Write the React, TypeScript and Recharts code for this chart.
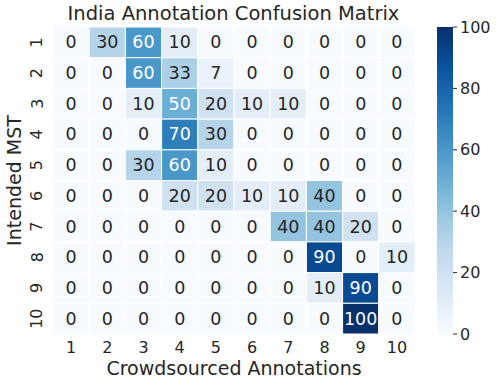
import React from 'react';
import { ScatterChart, Scatter, XAxis, YAxis, BarChart, Bar } from 'recharts';

// axis categories
const crowdLabels = ['1', '2', '3', '4', '5', '6', '7', '8', '9', '10'];
const mstLabels = ['1', '2', '3', '4', '5', '6', '7', '8', '9', '10'];

// rows = intended MST, columns = crowdsourced annotation (percent)
const row1 = [0, 30, 60, 10, 0, 0, 0, 0, 0, 0];
const row2 = [0, 0, 60, 33, 7, 0, 0, 0, 0, 0];
const row3 = [0, 0, 10, 50, 20, 10, 10, 0, 0, 0];
const row4 = [0, 0, 0, 70, 30, 0, 0, 0, 0, 0];
const row5 = [0, 0, 30, 60, 10, 0, 0, 0, 0, 0];
const row6 = [0, 0, 0, 20, 20, 10, 10, 40, 0, 0];
const row7 = [0, 0, 0, 0, 0, 0, 40, 40, 20, 0];
const row8 = [0, 0, 0, 0, 0, 0, 0, 90, 0, 10];
const row9 = [0, 0, 0, 0, 0, 0, 0, 10, 90, 0];
const row10 = [0, 0, 0, 0, 0, 0, 0, 0, 100, 0];
const rows = [row1, row2, row3, row4, row5, row6, row7, row8, row9, row10];

const colorbarTicks = [0, 20, 40, 60, 80, 100];

const FONT = '"DejaVu Sans", sans-serif';
const TEXT = '#262626';
const BLUES = ['#f7fbff', '#deebf7', '#c6dbef', '#9ecae1', '#6baed6', '#4292c6', '#2171b5', '#08519c', '#08306b'];

const W = 500;
const H = 387;
const M = { top: 27, right: 85, bottom: 33, left: 8 };
const X_AXIS_H = 20;
const Y_AXIS_W = 45;
const PLOT_W = W - M.left - M.right - Y_AXIS_W;
const PLOT_H = H - M.top - M.bottom - X_AXIS_H;

const hexToRgb = (h: string) => [1, 3, 5].map(i => parseInt(h.slice(i, i + 2), 16));

const blues = (t: number) => {
    const p = Math.max(0, Math.min(1, t)) * (BLUES.length - 1);
    const i = Math.min(Math.floor(p), BLUES.length - 2);
    const f = p - i;
    const a = hexToRgb(BLUES[i]);
    const b = hexToRgb(BLUES[i + 1]);
    return a.map((v, k) => Math.round(v + (b[k] - v) * f));
};

const lum = (rgb: number[]) => {
    const lin = rgb.map(c => {
        const s = c / 255;
        return s <= 0.03928 ? s / 12.92 : Math.pow((s + 0.055) / 1.055, 2.4);
    });
    return 0.2126 * lin[0] + 0.7152 * lin[1] + 0.0722 * lin[2];
};

const data = rows.flatMap((r, ri) => r.map((v, ci) => ({ x: ci + 1, y: ri + 1, v })));

const HeatCell = (props: any) => {
    const { cx, cy, payload } = props;
    const w = PLOT_W / crowdLabels.length;
    const h = PLOT_H / mstLabels.length;
    const rgb = blues(payload.v / 100);
    const textColor = lum(rgb) > 0.408 ? TEXT : '#ffffff';
    return (
        <g>
            <rect x={cx - w / 2} y={cy - h / 2} width={w} height={h}
                fill={`rgb(${rgb.join(',')})`} stroke="#ffffff" strokeWidth={1} />
            <text x={cx} y={cy} textAnchor="middle" dominantBaseline="central"
                fontFamily={FONT} fontSize={17.5} fill={textColor}>{payload.v}</text>
        </g>
    );
};

const YTick = (props: any) => {
    const { x, y, payload } = props;
    return (
        <text x={x} y={y} transform={`rotate(-90, ${x}, ${y})`} textAnchor="middle"
            dominantBaseline="central" fontFamily={FONT} fontSize={16} fill={TEXT}>
            {mstLabels[payload.value - 1]}
        </text>
    );
};

const YTitle = (props: any) => {
    const { viewBox } = props;
    const cx = 14;
    const cy = viewBox.y + viewBox.height / 2;
    return (
        <text x={cx} y={cy} transform={`rotate(-90, ${cx}, ${cy})`} textAnchor="middle"
            dominantBaseline="central" fontFamily={FONT} fontSize={19} fill={TEXT}>
            Intended MST
        </text>
    );
};

const Colorbar = () => (
    <BarChart width={60} height={H} data={[{ name: 'cb', v: 100 }]}
        margin={{ top: 27, right: 0, bottom: 53, left: 0 }} barCategoryGap={0}>
        <defs>
            <linearGradient id="bluesGrad" x1="0" y1="1" x2="0" y2="0">
                {BLUES.map((c, i) => (
                    <stop key={c} offset={`${(i / (BLUES.length - 1)) * 100}%`} stopColor={c} />
                ))}
            </linearGradient>
        </defs>
        <XAxis dataKey="name" hide />
        <YAxis orientation="right" width={44} domain={[0, 100]} ticks={colorbarTicks}
            axisLine={false} tickSize={4} tickMargin={3} stroke={TEXT}
            tick={{ fontSize: 16, fill: TEXT, fontFamily: FONT }} />
        <Bar dataKey="v" fill="url(#bluesGrad)" isAnimationActive={false} />
    </BarChart>
);

export default function App() {
    return (
        <div style={{ position: 'absolute', left: 0, top: 0, width: W, height: H, background: '#fff', fontFamily: FONT }}>
            <div style={{ position: 'absolute', left: 0, top: 0, width: 467, textAlign: 'center', fontSize: 19.5, lineHeight: '27px', color: TEXT }}>
                India Annotation Confusion Matrix
            </div>
            <div style={{ position: 'absolute', left: 0, top: 0 }}>
                <ScatterChart width={W} height={H} margin={M}>
                    <XAxis type="number" dataKey="x" domain={[0.5, 10.5]} ticks={[1, 2, 3, 4, 5, 6, 7, 8, 9, 10]}
                        tickFormatter={(v: number) => crowdLabels[v - 1]} height={X_AXIS_H}
                        axisLine={false} tickLine={false} tickSize={0} tickMargin={8} interval={0}
                        tick={{ fontSize: 16, fill: TEXT, fontFamily: FONT }}
                        label={{ value: 'Crowdsourced Annotations', position: 'bottom', offset: 8, fontSize: 19, fill: TEXT, fontFamily: FONT }} />
                    <YAxis type="number" dataKey="y" domain={[0.5, 10.5]} ticks={[1, 2, 3, 4, 5, 6, 7, 8, 9, 10]}
                        reversed width={Y_AXIS_W} axisLine={false} tickLine={false} tickSize={0} tickMargin={16}
                        interval={0} tick={<YTick />} label={<YTitle />} />
                    <Scatter data={data} shape={<HeatCell />} isAnimationActive={false} />
                </ScatterChart>
            </div>
            <div style={{ position: 'absolute', left: 437, top: 0 }}>
                <Colorbar />
            </div>
        </div>
    );
}
